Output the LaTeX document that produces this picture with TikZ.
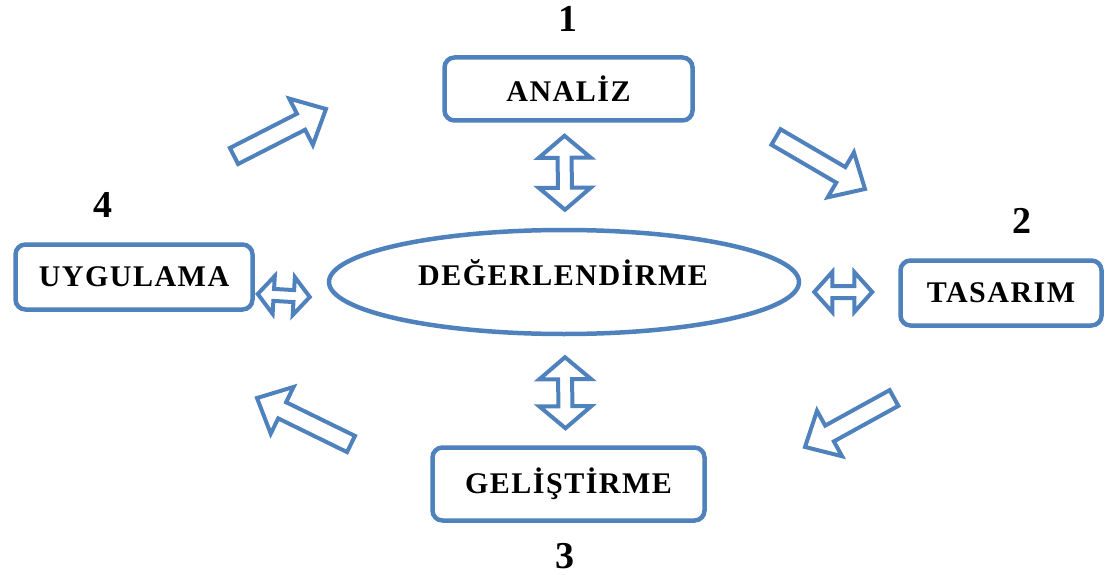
\documentclass[tikz,border=0pt]{standalone}
\usepackage{fontspec}
\setmainfont{Liberation Serif}
\newfontfamily\spacedserif[LetterSpace=5]{Liberation Serif}
\usetikzlibrary{shapes.geometric,calc}
\definecolor{frameblue}{HTML}{4F81BD}

\tikzset{
  stagebox/.style={draw=frameblue, line width=4.5pt, rounded corners=10pt,
    inner sep=0pt, font=\spacedserif\bfseries\fontsize{30}{36}\selectfont},
  hubshape/.style={ellipse, draw=frameblue, line width=4.5pt, inner sep=0pt},
  hubtext/.style={font=\spacedserif\bfseries\fontsize{30}{36}\selectfont},
  stepnum/.style={font=\bfseries\fontsize{38}{44}\selectfont},
  arrowline/.style={draw=frameblue, line width=4pt, fill=white, line join=miter},
}

% hollow one-way block arrow: tail, tip, shaft half-width, head half-width, head length
\newcommand\hollowsingle[5]{%
  \draw[arrowline] let \p1=(#1), \p2=(#2),
      \n1={atan2(\y2-\y1,\x2-\x1)}, \n2={veclen(\x2-\x1,\y2-\y1)} in
    [shift={(\p1)}, rotate=\n1]
    (0pt,-#3pt) -- ({\n2-#5pt},-#3pt) -- ({\n2-#5pt},-#4pt) -- ({\n2},0pt)
    -- ({\n2-#5pt},#4pt) -- ({\n2-#5pt},#3pt) -- (0pt,#3pt) -- cycle;
}
% hollow two-way block arrow: end, end, shaft half-width, head half-width, head length
\newcommand\hollowdouble[5]{%
  \draw[arrowline] let \p1=(#1), \p2=(#2),
      \n1={atan2(\y2-\y1,\x2-\x1)}, \n2={veclen(\x2-\x1,\y2-\y1)} in
    [shift={(\p1)}, rotate=\n1]
    (0pt,0pt) -- (#5pt,#4pt) -- (#5pt,#3pt) -- ({\n2-#5pt},#3pt) -- ({\n2-#5pt},#4pt)
    -- ({\n2},0pt) -- ({\n2-#5pt},-#4pt) -- ({\n2-#5pt},-#3pt) -- (#5pt,-#3pt)
    -- (#5pt,-#4pt) -- cycle;
}

\begin{document}
\begin{tikzpicture}[x=1pt, y=-1pt]
  \useasboundingbox (0,0) rectangle (1106,575);

  % stages of the cycle
  \node[stagebox, minimum width=248pt, minimum height=63pt] (analiz) at (568.5,89) {ANALİZ};
  \node[stagebox, minimum width=201pt, minimum height=65pt] (tasarim) at (1001,293) {TASARIM};
  \node[stagebox, minimum width=272pt, minimum height=73pt] (gelistirme) at (568.5,484) {GELİŞTİRME};
  \node[stagebox, minimum width=237pt, minimum height=65pt] (uygulama) at (134,277) {UYGULAMA};

  % evaluation hub in the middle
  \node[hubshape, minimum width=470pt, minimum height=104pt] (hub) at (564,282) {};
  \node[hubtext] (hubtitle) at (563,273) {DEĞERLENDİRME};

  % step numbers
  \node[stepnum] (n1) at (568,19) {1};
  \node[stepnum] (n2) at (1022,221) {2};
  \node[stepnum] (n3) at (565,556) {3};
  \node[stepnum] (n4) at (103,205) {4};

  % two-way links between the hub and each stage
  \hollowdouble{$(analiz.south)+(-4,13)$}{$(hub.north)+(1,-18)$}{7}{26}{22}
  \hollowdouble{$(hub.south)+(1,21)$}{$(gelistirme.north)+(-3,-17)$}{7}{26}{22}
  \hollowdouble{$(uygulama.east)+(3,17)$}{$(hub.west)+(-17,15)$}{6}{19}{16}
  \hollowdouble{$(hub.east)+(13,10)$}{$(tasarim.west)+(-26,-1)$}{6}{20}{18}

  % flow of the cycle between stages
  \coordinate (c41) at (234,156);  \coordinate (t41) at (326,109);
  \coordinate (c12) at (776,137);  \coordinate (t12) at (865,189);
  \coordinate (c23) at (894,398);  \coordinate (t23) at (805,447);
  \coordinate (c34) at (351,444);  \coordinate (t34) at (257,398);
  \hollowsingle{c41}{t41}{9}{26}{28}
  \hollowsingle{c12}{t12}{9}{26}{28}
  \hollowsingle{c23}{t23}{9}{26}{28}
  \hollowsingle{c34}{t34}{9}{26}{28}
\end{tikzpicture}
\end{document}
